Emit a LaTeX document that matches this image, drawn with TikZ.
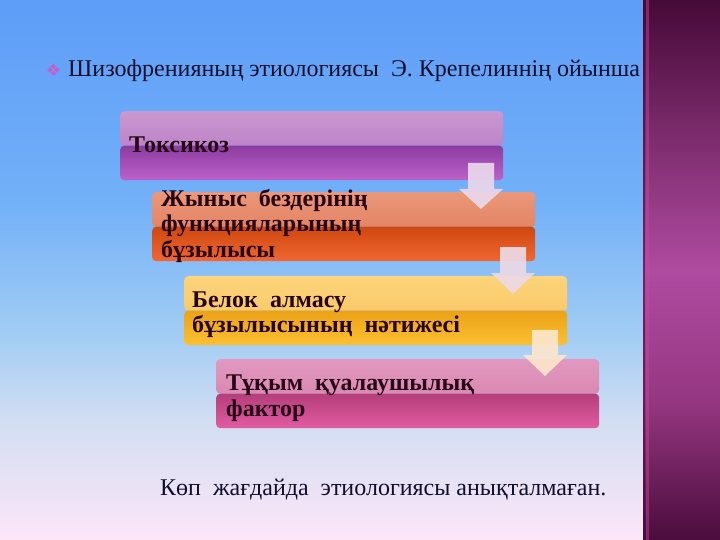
\documentclass[tikz,border=0pt]{standalone}
\usepackage{fontspec}
\setmainfont{Liberation Serif}
\newfontfamily\dejavu{DejaVu Sans}
\definecolor{bgA}{RGB}{94,157,248}
\definecolor{bgB}{RGB}{114,176,248}
\definecolor{bgC}{RGB}{160,204,244}
\definecolor{bgD}{RGB}{210,222,242}
\definecolor{bgE}{RGB}{253,230,248}
\definecolor{bandA}{RGB}{70,10,55}
\definecolor{bandB}{RGB}{110,35,95}
\definecolor{bandC}{RGB}{175,75,160}
\definecolor{bandD}{RGB}{150,55,130}
\definecolor{bandE}{RGB}{75,12,60}
\definecolor{bandline}{RGB}{205,70,160}
\definecolor{headtext}{RGB}{16,16,44}
\definecolor{boxtext}{RGB}{38,6,22}
\definecolor{bullet}{RGB}{196,92,206}
\definecolor{pA}{RGB}{202,152,208}\definecolor{pB}{RGB}{176,112,192}\definecolor{pC}{RGB}{140,60,160}\definecolor{pD}{RGB}{188,98,202}
\definecolor{oA}{RGB}{234,152,122}\definecolor{oB}{RGB}{222,112,80}\definecolor{oC}{RGB}{205,72,15}\definecolor{oD}{RGB}{242,102,50}
\definecolor{yA}{RGB}{252,212,122}\definecolor{yB}{RGB}{248,192,92}\definecolor{yC}{RGB}{235,162,22}\definecolor{yD}{RGB}{252,192,52}
\definecolor{kA}{RGB}{226,152,192}\definecolor{kB}{RGB}{210,122,162}\definecolor{kC}{RGB}{180,62,122}\definecolor{kD}{RGB}{226,92,162}
\definecolor{arA}{RGB}{234,216,236}
\definecolor{arB}{RGB}{236,218,228}
\definecolor{arC}{RGB}{252,230,204}
\pgfdeclareverticalshading{bgshade}{100bp}{color(0bp)=(bgE); color(25bp)=(bgE); color(36bp)=(bgD); color(44.4bp)=(bgC); color(56.5bp)=(bgB); color(75bp)=(bgA); color(100bp)=(bgA)}
\pgfdeclareverticalshading{bandshade}{100bp}{color(0bp)=(bandE); color(25bp)=(bandE); color(38bp)=(bandD); color(50bp)=(bandC); color(65.7bp)=(bandB); color(75bp)=(bandA); color(100bp)=(bandA)}
\tikzset{
  gbox/.style n args={4}{rounded corners=4pt, inner sep=0pt, anchor=north west,
    minimum width=383pt, minimum height=69pt,
    path picture={
      \shade[top color=#1, bottom color=#2] (path picture bounding box.north west) rectangle (path picture bounding box.east);
      \shade[top color=#3, bottom color=#4] (path picture bounding box.west) rectangle (path picture bounding box.south east);
    }},
  btext/.style={anchor=base west, inner sep=0pt, text=boxtext, font=\bfseries\fontsize{24}{25}\selectfont},
  blockarrow/.style={fill=#1, opacity=0.92},
}
\begin{document}
\begin{tikzpicture}[x=1pt,y=-1pt]
\useasboundingbox (0,0) rectangle (720,540);
\shade[shading=bgshade] (0,0) rectangle (643,540);
\shade[shading=bandshade] (643,0) rectangle (720,540);
\fill[bandline, opacity=0.45] (646,0) rectangle (649,540);
\fill[bandA, opacity=0.6] (643,0) rectangle (644.5,540);
% header
\node[text=bullet, font=\dejavu\fontsize{17}{17}\selectfont, inner sep=0pt] (bul) at (53.5,70.5) {❖};
\node[anchor=base west, inner sep=0pt, text=headtext, font=\fontsize{24}{30}\selectfont] (head) at (68,77) {Шизофренияның этиологиясы~ Э. Крепелиннің ойынша};
% boxes
\node[gbox={pA}{pB}{pC}{pD}] (b1) at (120,111) {};
\node[gbox={oA}{oB}{oC}{oD}] (b2) at (152,192) {};
\node[gbox={yA}{yB}{yC}{yD}] (b3) at (184,276) {};
\node[gbox={kA}{kB}{kC}{kD}] (b4) at (216,359) {};
% block arrows
\fill[blockarrow=arA] (468,163) -- (494,163) -- (494,189) -- (503,189) -- (481,209) -- (459,189) -- (468,189) -- cycle;
\fill[blockarrow=arB] (500,247) -- (526,247) -- (526,273) -- (535,273) -- (513,294) -- (491,273) -- (500,273) -- cycle;
\fill[blockarrow=arC] (532,330) -- (558,330) -- (558,355) -- (567,355) -- (545,376) -- (523,355) -- (532,355) -- cycle;
% box texts
\node[btext] (t1) at (129,153) {Токсикоз};
\node[btext] (t2a) at (161,207) {Жыныс~ бездерінің};
\node[btext] (t2b) at (161,232) {функцияларының};
\node[btext] (t2c) at (161,257) {бұзылысы};
\node[btext] (t3a) at (192,307) {Белок~ алмасу};
\node[btext] (t3b) at (192,332) {бұзылысының~ нәтижесі};
\node[btext] (t4a) at (226,390) {Тұқым~ қуалаушылық};
\node[btext] (t4b) at (226,416) {фактор};
% footer
\node[anchor=base west, inner sep=0pt, text=headtext, font=\fontsize{24}{28}\selectfont] (foot) at (160,495) {Көп~ жағдайда~ этиологиясы анықталмаған.};
\end{tikzpicture}
\end{document}
